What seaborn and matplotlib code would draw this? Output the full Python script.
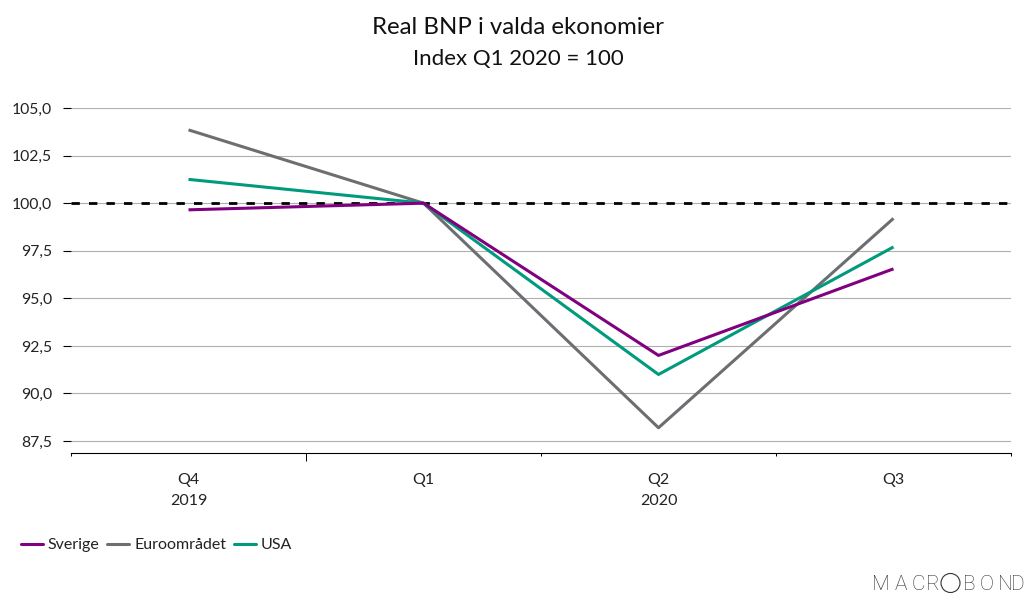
import pandas as pd
import seaborn as sns
import matplotlib.pyplot as plt
from matplotlib.patches import Ellipse

quarters = ["Q4", "Q1", "Q2", "Q3"]
years = ["2019", "", "2020", ""]
sverige = [99.65, 100.0, 92.0, 96.55]
euro = [103.85, 100.0, 88.2, 99.2]
usa = [101.25, 100.0, 91.0, 97.7]
y_ticks = [87.5, 90.0, 92.5, 95.0, 97.5, 100.0, 102.5, 105.0]

series = ["Sverige", "Euroområdet", "USA"]
colors = ["#800080", "#6d6e71", "#009a7d"]

sns.set_theme(style="white")
plt.rcParams["font.family"] = ["Lato", "DejaVu Sans"]

df = pd.DataFrame({"pos": range(4), "Sverige": sverige, "Euroområdet": euro, "USA": usa})
df = df.melt(id_vars="pos", var_name="serie", value_name="value")

fig = plt.figure(figsize=(10.36, 6.13), dpi=100)
ax = fig.add_axes([71 / 1036, 1 - 452.5 / 613, 940 / 1036, 344.5 / 613])

sns.lineplot(data=df, x="pos", y="value", hue="serie", hue_order=series,
             palette=colors, linewidth=2.2, ax=ax)

# purple on top, as in the original
for line, z in zip(ax.lines, [5, 3, 4]):
    line.set_zorder(z)
    line.set_solid_capstyle("butt")

ax.axhline(100, color="black", linewidth=2, dashes=(3.0, 3.3), zorder=2.5)

ax.set_xlim(-0.5, 3.5)
ax.set_ylim(86.9, 105)
ax.set_xlabel("")
ax.set_ylabel("")

ax.set_yticks(y_ticks)
ax.set_yticklabels([f"{v:.1f}".replace(".", ",") for v in y_ticks], fontsize=11.3, color="#222222")
ax.yaxis.grid(True, color="#b0b0b0", linewidth=0.8)
ax.set_axisbelow(True)
ax.tick_params(axis="y", left=True, length=6, width=0.8, color="black", pad=7.5)

ax.set_xticks(range(4))
ax.set_xticklabels([f"{q}\n{y}" for q, y in zip(quarters, years)], fontsize=11.5,
                   color="#222222", linespacing=1.6)
ax.set_xticks([-0.5, 0.5, 1.5, 2.5, 3.5], minor=True)
ax.tick_params(axis="x", which="major", bottom=False, pad=9)
ax.tick_params(axis="x", which="minor", bottom=True, length=2, width=0.7, color="black")
# only the first divider is drawn long in the original
ax.xaxis.get_minor_ticks()[1].tick1line.set_markersize(6)

for side in ["top", "left", "right"]:
    ax.spines[side].set_visible(False)
ax.spines["bottom"].set_color("black")
ax.spines["bottom"].set_linewidth(0.8)

fig.text(518 / 1036, 1 - 28 / 613, "Real BNP i valda ekonomier",
         ha="center", va="center", fontsize=17.3, color="#111111")
fig.text(518 / 1036, 1 - 59 / 613, "Index Q1 2020 = 100",
         ha="center", va="center", fontsize=16, color="#111111")

handles, labels = ax.get_legend_handles_labels()
ax.legend(handles, labels, loc="center left", bbox_to_anchor=(21 / 1036, 1 - 545 / 613),
          bbox_transform=fig.transFigure, ncol=3, frameon=False, fontsize=11.5,
          handlelength=1.37, handletextpad=0.3, columnspacing=0.5, borderpad=0,
          borderaxespad=0, labelcolor="#222222")

# logo, letter by letter because of the spacing
logo_x = [881, 901, 918, 933, 969, 987, 1005, 1018]
for x, ch in zip(logo_x, "MACRBOND"):
    fig.text(x / 1036, 1 - 584 / 613, ch, ha="center", va="center", fontsize=15,
             color="#333333", family="Roboto", fontweight="light")
fig.add_artist(Ellipse((950.5 / 1036, 1 - 583 / 613), 19 / 1036, 19 / 613,
                       transform=fig.transFigure, fill=False, edgecolor="#333333", linewidth=0.8))

fig.savefig("out.png", dpi=100, facecolor="white")
